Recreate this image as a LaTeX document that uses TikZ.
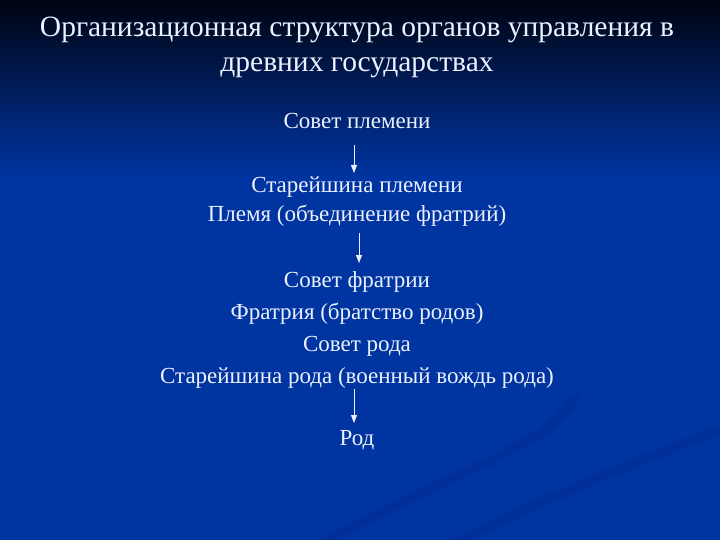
\documentclass[tikz,border=0pt]{standalone}
\usepackage{fontspec}
\setmainfont{Liberation Serif}
\usetikzlibrary{arrows.meta}
\definecolor{bgblue}{RGB}{0,52,160}
\definecolor{bgdark}{RGB}{0,4,18}
\definecolor{bgswoosh}{RGB}{0,30,110}
\definecolor{txtwhite}{RGB}{236,241,255}

\begin{document}
\begin{tikzpicture}[x=1pt,y=-1pt,txt/.style={text=txtwhite,font=\fontsize{23}{28}\selectfont,anchor=base,inner sep=0pt},ttl/.style={txt,font=\fontsize{29.5}{35}\selectfont},arr/.style={draw=txtwhite,line width=0.9pt,-{Triangle[width=6pt,length=8pt]}}]
\def\xc{357};

\useasboundingbox (0,0) rectangle (720,540);
\fill[bgblue] (0,0) rectangle (720,540);
\shade[top color=bgdark,bottom color=bgblue] (0,0) rectangle (720,175);
\draw[bgswoosh,opacity=0.16,line width=9pt] (320,545) .. controls (430,480) and (560,445) .. (575,395);
\draw[bgswoosh,opacity=0.16,line width=9pt] (440,550) .. controls (540,500) and (640,460) .. (725,428);

\node[ttl] (ttlA) at (\xc,37) {Организационная структура органов управления в};
\node[ttl] (ttlB) at (\xc,72) {древних государствах};

\node[txt] (sovP) at (\xc,129) {Совет племени};
\node[txt] (starP) at (\xc,193) {Старейшина племени};
\node[txt] (plem) at (\xc,222) {Племя (объединение фратрий)};
\draw[arr] ([xshift=-3pt,yshift=-16pt]sovP.base) -- ([xshift=-3pt,yshift=20pt]starP.base);

\node[txt] (sovF) at (\xc,287) {Совет фратрии};
\node[txt] (fratr) at (\xc,319) {Фратрия (братство родов)};
\node[txt] (sovR) at (\xc,351) {Совет рода};
\node[txt] (starR) at (\xc,383) {Старейшина рода (военный вождь рода)};
\draw[arr] ([xshift=2pt,yshift=-11pt]plem.base) -- ([xshift=2pt,yshift=24pt]sovF.base);

\node[txt] (rod) at (\xc,445) {Род};
\draw[arr] ([xshift=-3pt,yshift=-6pt]starR.base) -- ([xshift=-3pt,yshift=22pt]rod.base);
\end{tikzpicture}
\end{document}
